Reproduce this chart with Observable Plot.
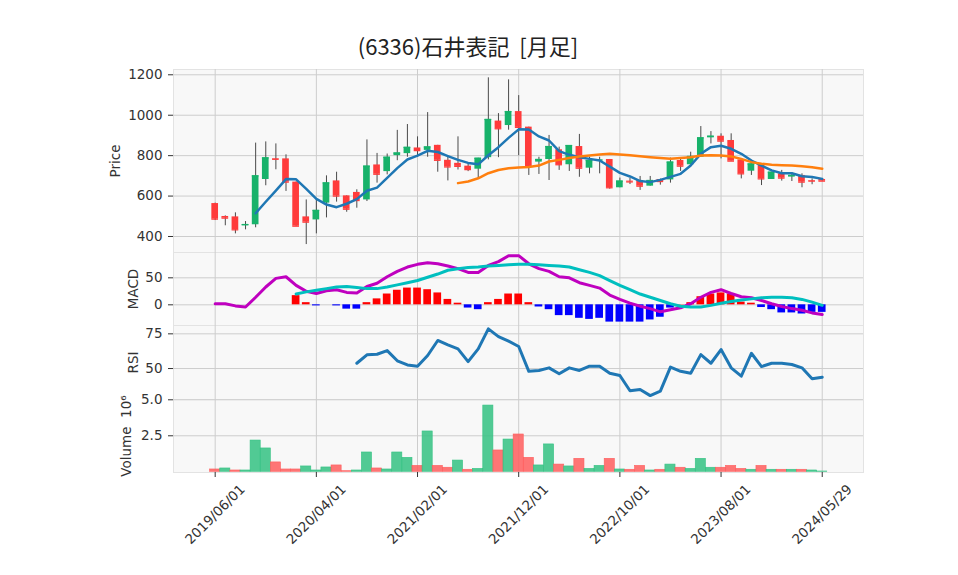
<!DOCTYPE html>
<html>
<head>
<meta charset="utf-8">
<script src="https://cdn.jsdelivr.net/npm/d3@7"></script>
<script src="https://cdn.jsdelivr.net/npm/@observablehq/plot@0.6"></script>
<style>
  body { margin: 0; background: #ffffff; }
  #chart { position: relative; width: 958px; height: 575px; font-family: "Noto Sans CJK JP", "Noto Sans", sans-serif; }
  #title { position: absolute; left: 0; width: 936px; top: 34px; text-align: center; font-size: 22px; line-height: 22px; white-space: pre; color: #222; }
  #chart svg { position: absolute; left: 0; }
</style>
</head>
<body>
<div id="chart"><div id="title">(6336)石井表記  [月足]</div></div>
<script>
// ---- data ----
const dates = [
  "2019/06/01","2019/07/01","2019/08/01","2019/09/01","2019/10/01","2019/11/01","2019/12/01",
  "2020/01/01","2020/02/01","2020/03/01","2020/04/01","2020/05/01","2020/06/01","2020/07/01","2020/08/01","2020/09/01","2020/10/01","2020/11/01","2020/12/01",
  "2021/01/01","2021/02/01","2021/03/01","2021/04/01","2021/05/01","2021/06/01","2021/07/01","2021/08/01","2021/09/01","2021/10/01","2021/11/01","2021/12/01",
  "2022/01/01","2022/02/01","2022/03/01","2022/04/01","2022/05/01","2022/06/01","2022/07/01","2022/08/01","2022/09/01","2022/10/01","2022/11/01","2022/12/01",
  "2023/01/01","2023/02/01","2023/03/01","2023/04/01","2023/05/01","2023/06/01","2023/07/01","2023/08/01","2023/09/01","2023/10/01","2023/11/01","2023/12/01",
  "2024/01/01","2024/02/01","2024/03/01","2024/04/01","2024/05/01","2024/05/29"
];
const openP  = [563,499,497,453,458,682,785,784,669,497,482,565,675,601,618,581,754,721,800,810,838,826,851,777,762,748,733,790,971,949,1018,941,768,781,829,755,845,738,775,781,641,674,677,649,682,680,776,755,792,888,896,875,779,723,759,682,710,694,702,677,682];
const highP  = [565,502,517,474,862,868,858,804,670,581,581,700,718,601,631,878,811,808,925,954,893,1013,851,792,893,757,787,1185,1008,1175,1097,941,792,900,842,850,905,792,792,781,689,687,697,697,684,788,788,817,944,919,908,908,779,771,759,718,727,715,710,685,682];
const lowP   = [479,453,413,433,443,651,730,623,450,360,413,492,570,520,540,573,664,705,775,792,792,792,718,675,729,721,688,779,790,926,800,702,707,677,727,722,693,710,710,634,641,657,628,649,654,664,722,755,792,858,784,773,685,702,652,682,674,672,641,656,674];
const closeP = [486,491,433,459,700,789,782,669,451,471,529,665,600,535,578,748,708,792,813,841,825,843,777,744,747,731,787,979,933,1018,940,751,781,845,755,850,738,776,778,641,674,670,649,677,672,768,748,796,888,896,872,773,710,759,685,718,689,702,669,674,674];
const maShort = [null,null,null,null,515,572,627,684,683,636,586,558,545,562,585,626,642,690,738,781,800,824,818,798,779,764,757,802,842,888,930,929,895,875,822,804,792,784,776,746,715,697,674,669,680,695,710,751,809,842,849,834,809,776,751,727,713,713,698,694,685];
const maLong = [null,null,null,null,null,null,null,null,null,null,null,null,null,null,null,null,null,null,null,null,null,null,null,null,
  664,672,688,713,729,738,741,744,751,771,779,788,796,801,806,809,806,802,797,792,788,785,788,792,801,802,801,796,784,768,760,755,753,751,748,743,735];
const macd = [2,2,-2,-4,14,33,49,52,36,25,21,26,28,23,22,34,40,52,62,70,75,78,76,72,67,60,60,73,80,91,91,76,67,62,52,50,41,36,31,18,10,3,-2.5,-7,-13,-9,-5.5,2,14,23,28,21,15,13,8,2,-3,-7,-10,-15,-18];
const signal = [null,null,null,null,null,null,null,null,20,24,27,30,33,34,32,30,30,33,37,41,45,51,57,64,67,69,70,72,73,74,75,75,74,73,72,70,65,60,54,45,36,28,20,14,8,2,-2.5,-4,-4,-1,3,6,9,11,13,14,14,13,10,5,-1];
const hist = [null,null,null,null,null,null,null,null,17,4,-2,0,-2,-8,-8,4,11,20,27,31,31,28,22,10,3,-6,-9,4,10,20,20,4,-4,-9,-20,-20,-25,-27,-25,-32,-32,-32,-32,-28,-23,-6,0.5,4,15,20,22,20,5,3,-5,-9,-15,-15,-17,-14,-14];
const rsi = [null,null,null,null,null,null,null,null,null,null,null,null,null,null,53.8,59.9,60.3,62.9,55.6,52.6,51.7,59.4,70.2,67,64.2,55,64.2,78.6,73,69.7,65.9,48,48.6,50.5,46.2,50.5,48.6,51.7,51.7,46.6,45,34,34.9,30.5,33.7,51,48,46.6,60,53.8,63.7,50.5,44.5,61,51.4,53.8,53.8,52.9,50.5,42.6,43.8];
const volume = [0.16,0.23,0.09,0.09,2.17,1.62,0.65,0.16,0.16,0.37,0.09,0.30,0.44,0.04,0.09,1.34,0.23,0.16,1.34,0.97,0.41,2.8,0.41,0.28,0.78,0.14,0.2,4.6,1.48,2.24,2.59,0.97,0.44,1.9,0.5,0.37,0.9,0.2,0.41,0.9,0.16,0.14,0.41,0.09,0.14,0.5,0.28,0.2,0.9,0.28,0.28,0.41,0.2,0.14,0.41,0.14,0.14,0.14,0.14,0.09,0.02];
const xTickIdx = [0,10,20,30,40,50,60];
const priceTicks = [400,600,800,1000,1200];
const macdTicks = [0,50];
const rsiTicks = [50,75];
const volTicks = [2.5,5.0];

// ---- style ----
const UP = "#17b26a", DOWN = "#ff3b3b";
const VUP = "#34c283", VDOWN = "#ff5e5e";
const FONT = '"DejaVu Sans", "Noto Sans CJK JP", sans-serif';
const FS = 13.5;
const W = 958, LEFT = 173, RIGHT = 863;
const xDomain = [-4.12, 64.08];
const idx = d3.range(dates.length);
const chart = document.getElementById("chart");

function panel({top, bottom, yDomain, yTicks, yFormat, label, labelDx, marks, xAxis}) {
  const extra = xAxis ? 103 : 0;
  const svg = Plot.plot({
    width: W,
    height: (bottom - top) + extra,
    marginLeft: LEFT,
    marginRight: W - RIGHT,
    marginTop: 0,
    marginBottom: extra,
    style: {fontFamily: FONT, fontSize: FS + "px", color: "#333", background: "transparent", overflow: "visible"},
    x: xAxis ? {domain: xDomain} : {domain: xDomain, axis: null},
    y: {domain: yDomain},
    marks: [
      Plot.frame({fill: "#f8f8f8", stroke: "#e3e3e3"}),
      Plot.gridX(xTickIdx, {stroke: "#cdcdcd", strokeOpacity: 1, strokeWidth: 1}),
      Plot.gridY(yTicks, {stroke: "#cdcdcd", strokeOpacity: 1, strokeWidth: 1}),
      Plot.axisY(yTicks, {tickSize: 5, tickPadding: 6, tickFormat: yFormat, label: null, fontSize: FS}),
      ...marks,
      Plot.text([label], {text: d => d, frameAnchor: "left", rotate: -90, dx: labelDx, textAnchor: "middle", lineAnchor: "middle", fontSize: FS, fill: "#333"}),
      ...(xAxis ? [
        Plot.axisX(xTickIdx, {tickSize: 5, tickFormat: () => "", label: null}),
        Plot.text(xTickIdx, {x: d => d, text: d => dates[d], frameAnchor: "bottom", rotate: -45, dy: 42, textAnchor: "middle", lineAnchor: "middle", fontSize: FS, fill: "#333"})
      ] : [])
    ]
  });
  svg.style.top = top + "px";
  chart.appendChild(svg);
}

const candleColor = i => closeP[i] >= openP[i] ? UP : DOWN;
const volColor = i => (i === 0 ? closeP[i] >= openP[i] : closeP[i] >= closeP[i - 1]) ? VUP : VDOWN;
const def = arr => idx.filter(i => arr[i] != null);

// Price panel
panel({
  top: 69, bottom: 252,
  yDomain: [320.8, 1226.2], yTicks: priceTicks, yFormat: d => String(d),
  label: "Price", labelDx: -58,
  marks: [
    Plot.ruleX(idx, {x: i => i, y1: i => lowP[i], y2: i => highP[i], stroke: "#4a4a4a", strokeWidth: 1}),
    Plot.rect(idx, {x1: i => i - 0.33, x2: i => i + 0.33, y1: i => openP[i], y2: i => closeP[i], fill: candleColor}),
    Plot.ruleY(idx, {x1: i => i - 0.33, x2: i => i + 0.33, y: i => closeP[i], stroke: candleColor, strokeWidth: 1.3}),
    Plot.line(def(maShort), {x: i => i, y: i => maShort[i], stroke: "#1f77b4", strokeWidth: 2.5}),
    Plot.line(def(maLong), {x: i => i, y: i => maLong[i], stroke: "#ff7f0e", strokeWidth: 2.5})
  ]
});

// MACD panel
panel({
  top: 252, bottom: 325,
  yDomain: [-38.3, 96.9], yTicks: macdTicks, yFormat: d => String(d),
  label: "MACD", labelDx: -40,
  marks: [
    Plot.rect(def(hist), {x1: i => i - 0.38, x2: i => i + 0.38, y1: 0, y2: i => hist[i], fill: i => hist[i] >= 0 ? "#ff0000" : "#0000ff"}),
    Plot.line(def(macd), {x: i => i, y: i => macd[i], stroke: "#bf00bf", strokeWidth: 3}),
    Plot.line(def(signal), {x: i => i, y: i => signal[i], stroke: "#00bfbf", strokeWidth: 3})
  ]
});

// RSI panel
panel({
  top: 325, bottom: 399,
  yDomain: [27.7, 81], yTicks: rsiTicks, yFormat: d => String(d),
  label: "RSI", labelDx: -40,
  marks: [
    Plot.line(def(rsi), {x: i => i, y: i => rsi[i], stroke: "#1f77b4", strokeWidth: 3})
  ]
});

// Volume panel
panel({
  top: 399, bottom: 472,
  yDomain: [-0.05, 5.02], yTicks: volTicks, yFormat: d3.format(".1f"),
  label: "Volume  10\u2076", labelDx: -47,
  xAxis: true,
  marks: [
    Plot.rect(idx, {x1: i => i - 0.5, x2: i => i + 0.5, y1: 0, y2: i => volume[i], fill: volColor, fillOpacity: 0.85, stroke: volColor, strokeWidth: 0.6})
  ]
});
</script>
</body>
</html>
